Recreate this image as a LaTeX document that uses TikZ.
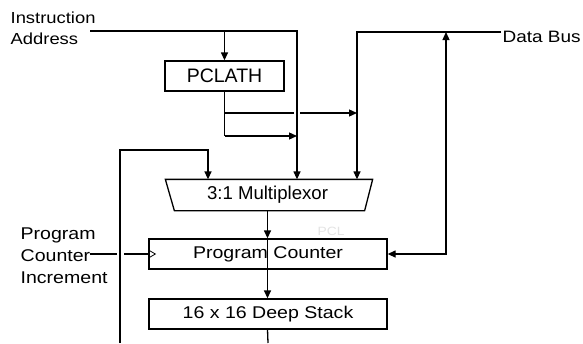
\documentclass[tikz,border=0pt]{standalone}
\usepackage{fontspec}
\setmainfont{Liberation Sans}[FakeStretch=1.15]
\newfontfamily\plainsans{Liberation Sans}
\usetikzlibrary{arrows.meta}
\begin{document}
\begin{tikzpicture}[x=1pt,y=-1pt,
  line width=1.3pt,
  arr/.style={-{Triangle[length=8pt,width=7pt]}},
  darr/.style={{Triangle[length=8pt,width=7pt]}-{Triangle[length=8pt,width=7pt]}},
  box/.style={draw, minimum height=30pt, inner sep=0pt, font=\fontsize{17}{22}\selectfont},
  lbl/.style={inner sep=0pt, font=\fontsize{17}{22}\selectfont, align=left},
  gap/.style={preaction={draw=white, line width=6pt, arrows=-}}
]
\useasboundingbox (0,0) rectangle (583,343);

% labels
\node[lbl, anchor=north west, font=\fontsize{16}{21}\selectfont] (ialbl) at (10,11) {Instruction\\Address};
\node[lbl, anchor=base west, font=\fontsize{16.5}{20}\selectfont] (dblbl) at (502,42) {Data Bus};
\node[lbl, anchor=north west] (inclbl) at (20,227) {Program\\Counter\\Increment};
\node[inner sep=0pt, text=gray!22, font=\fontsize{12}{14}\selectfont] (pcl) at (331,231) {PCL};

% coordinates
\coordinate (ia) at (90,31);
\coordinate (iaV) at (297,31);
\coordinate (db) at (501,32);
\coordinate (dbV) at (357,32);
\coordinate (dbJ) at (446,32);
\coordinate (fb0) at (120,343);
\coordinate (fbT) at (208,150);
\coordinate (bot) at (268,343);
\coordinate (incS) at (90,254);
\coordinate (pA) at (224.5,113);
\coordinate (pB) at (224.5,136);

% boxes
\node[box, minimum width=119pt, font=\plainsans\fontsize{19.5}{22}\selectfont] (pclath) at (224.5,76) {PCLATH};
\node[box, draw=none, minimum width=209pt, font=\plainsans\fontsize{18.6}{22}\selectfont] (mux) at (267.5,195) {3:1 Multiplexor};
\node[box, minimum width=238pt] (pc) at (268,254) {Program Counter};
\node[box, minimum width=238pt] (stack) at (268,314) {16 x 16 Deep Stack};

% PCLATH outputs
\draw (pclath.south) -- (pB);
\draw[arr] (pA) -- (dbV |- pA);

% instruction address
\draw[arr, gap] (ia) -| (iaV |- mux.north);
\draw[arr] (pclath.north |- ia) -- (pclath.north);
\draw[arr] (pB) -- (iaV |- pB);

% data bus
\draw[arr] (db) -| (dbV |- mux.north);
\draw[darr] (dbJ) |- (pc.east);

% program counter increment
\draw (incS) -- (pc.west);
\draw[line width=0.8pt] ([xshift=1pt,yshift=3.5pt]pc.west) -- ([xshift=7pt]pc.west) -- ([xshift=1pt,yshift=-3.5pt]pc.west);

% stack feedback
\draw[white, line width=7pt] (fb0) -- (fb0 |- fbT);
\draw[arr] (fb0) |- (fbT) -- (fbT |- mux.north);

% multiplexor
\draw ([xshift=3pt]mux.north west) -- (mux.north east) -- ([xshift=-8pt]mux.south east) -- ([xshift=12pt]mux.south west) -- cycle;

% main chain
\draw[arr] (mux.south) -- (mux.south |- pc.north);
\draw[arr] (mux.south |- pc.north) -- (mux.south |- stack.north);
\draw (mux.south |- stack.south) -- (bot);
\end{tikzpicture}
\end{document}
